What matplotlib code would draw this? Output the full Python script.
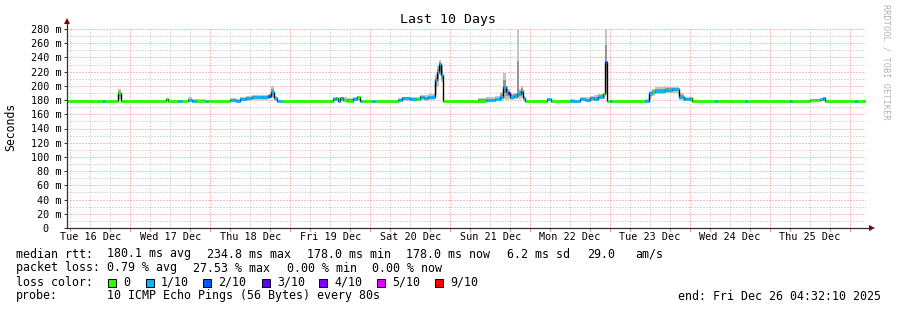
import matplotlib
matplotlib.use("Agg")
import matplotlib.pyplot as plt
import numpy as np

plt.rcParams['font.family'] = ['DejaVu Sans Mono']
plt.rcParams['lines.scale_dashes'] = False

# ---------------- data (hours since Tue 16 Dec 00:00) ----------------
seg_hours = [5.0, 15.9, 16.5, 20.4, 21.3, 34.8, 35.4, 38.4, 39.6, 41.4, 42.6, 43.8, 46.8, 47.4,
             54.0, 55.8, 57.0, 58.8, 60.6, 63.6, 65.4, 66.3, 67.2, 68.1, 69.6,
             84.9, 85.8, 86.4, 87.0, 87.9, 89.1, 90.9, 92.1, 93.0, 93.6, 96.6, 97.5,
             104.4, 105.6, 108.0, 109.8, 111.0, 112.2, 113.4, 115.5, 116.1, 116.7, 117.3, 117.9,
             128.4, 130.8, 133.5, 135.0, 135.9, 136.8, 137.4, 138.0, 139.2, 140.1, 140.7, 141.3,
             141.9, 142.5, 149.1, 150.3, 156.0, 157.5, 159.0, 160.5, 162.0, 163.2, 164.4, 165.9,
             166.5, 167.1, 168.0, 168.6, 178.5, 179.7, 180.6, 181.5, 184.5, 186.6, 188.7, 190.2,
             192.0, 192.6, 199.5, 200.1, 208.5, 209.1, 222.0, 222.6, 228.0, 229.8, 231.0, 231.9,
             232.5, 241.5, 242.1]
end_hour = 244.8
median_ms = [178, 178, 178, 190, 178, 181, 178, 178, 178, 180, 178, 178, 178, 178,
             180, 178, 181, 183, 185, 184, 186, 192, 183, 178, 178,
             181, 183, 179, 183, 180, 179, 182, 184, 178, 178, 178, 178,
             180, 183, 181, 181, 185, 183, 184, 208, 220, 231, 215, 178,
             179, 180, 181, 184, 198, 191, 190, 184, 186, 188, 189, 193,
             183, 178, 181, 178, 179, 178, 181, 180, 183, 182, 185, 188,
             233, 178, 178, 178, 179, 190, 192, 193, 194, 195, 185, 181,
             183, 178, 178, 178, 178, 178, 178, 178, 180, 180, 181, 183,
             178, 178, 178]
loss_idx = [0, 1, 0, 0, 0, 0, 0, 1, 0, 1, 1, 0, 1, 0,
            1, 1, 1, 1, 1, 1, 2, 1, 1, 1, 0,
            1, 0, 1, 1, 0, 0, 1, 0, 1, 0, 1, 0,
            1, 1, 1, 0, 1, 1, 1, 1, 1, 1, 1, 0,
            0, 1, 1, 1, 1, 1, 3, 1, 1, 1, 1, 1,
            1, 0, 1, 0, 1, 1, 1, 1, 1, 1, 1, 0,
            2, 0, 1, 0, 1, 1, 0, 1, 1, 1, 1, 1,
            0, 0, 1, 0, 1, 0, 1, 0, 0, 0, 1, 1,
            0, 1, 0]
smoke_lo = [178, 178, 178, 182, 178, 179, 178, 178, 178, 178, 178, 178, 178, 178,
            178, 178, 178, 179, 180, 180, 181, 183, 179, 178, 178,
            178, 179, 178, 179, 178, 178, 179, 180, 178, 178, 178, 178,
            178, 179, 178, 178, 180, 179, 180, 190, 200, 215, 205, 178,
            178, 178, 178, 178, 182, 180, 181, 180, 181, 182, 182, 183,
            179, 178, 178, 178, 178, 178, 178, 178, 179, 179, 181, 182,
            190, 178, 178, 178, 178, 182, 186, 188, 190, 190, 180, 178,
            179, 178, 178, 178, 178, 178, 178, 178, 178, 178, 178, 179,
            178, 178, 178]
smoke_hi = [178, 178, 178, 195, 178, 182, 178, 178, 178, 184, 182, 181, 178, 178,
            183, 182, 184, 186, 187, 187, 189, 200, 186, 178, 178,
            184, 185, 182, 185, 184, 183, 185, 186, 178, 178, 178, 178,
            183, 185, 184, 184, 187, 187, 188, 215, 228, 236, 230, 178,
            183, 184, 186, 192, 218, 200, 195, 190, 190, 281, 196, 200,
            186, 178, 182, 178, 182, 178, 184, 184, 186, 187, 188, 190,
            281, 178, 178, 178, 181, 193, 196, 198, 199, 199, 190, 184,
            184, 178, 178, 178, 178, 178, 178, 178, 181, 181, 182, 184,
            178, 178, 178]

loss_labels = ['0', '1/10', '2/10', '3/10', '4/10', '5/10', '9/10']
loss_colors = ['#26ff00', '#00b8ff', '#0059ff', '#5e00ff', '#7e00ff', '#dd00ff', '#ff0000']

day_labels = ['Tue 16 Dec', 'Wed 17 Dec', 'Thu 18 Dec', 'Fri 19 Dec', 'Sat 20 Dec',
              'Sun 21 Dec', 'Mon 22 Dec', 'Tue 23 Dec', 'Wed 24 Dec', 'Thu 25 Dec']
y_ticks = [0, 20, 40, 60, 80, 100, 120, 140, 160, 180, 200, 220, 240, 260, 280]

# ---------------- figure ----------------
W, H = 897, 310
fig = plt.figure(figsize=(W / 100, H / 100), dpi=100)
fig.patch.set_facecolor('white')
ax = fig.add_axes([67 / W, 82 / H, 799 / W, 199 / H])
ax.set_xlim(5.0, end_hour)
ax.set_ylim(0, 280)
ax.set_facecolor('white')

MAJ = '#ff8080'
MIN = '#b8b8b8'
dash = (0, (0.72, 1.44))
# grid
for v in range(10, 281, 10):
    ax.axhline(v, color=MAJ if v % 20 == 0 else MIN, lw=0.72, ls=dash, zorder=0.5)
for h in np.arange(6, end_hour, 6):
    if h < 5.0:
        continue
    ax.axvline(h, color=MAJ if h % 24 == 0 else MIN, lw=0.72, ls=dash, zorder=0.5)

# smoke
t = np.array(seg_hours + [end_hour])
lo = np.array(smoke_lo + [smoke_lo[-1]], float)
hi = np.array(smoke_hi + [smoke_hi[-1]], float)
md = np.array(median_ms + [median_ms[-1]], float)
ax.fill_between(t, lo, hi, step='post', color='#c4c4c4', lw=0, zorder=1)
ax.fill_between(t, (lo + md) / 2, (md + hi) / 2, step='post', color='#949494', lw=0, zorder=1.1)

# median: black connector then loss-coloured segments
ax.step(t, md, where='post', color='black', lw=1.0, zorder=2)
ax.hlines(median_ms, seg_hours, seg_hours[1:] + [end_hour],
          colors=[loss_colors[i] for i in loss_idx], lw=2.0, zorder=3)

# axes
for s in ax.spines.values():
    s.set_visible(False)
ax.plot([0, 0], [0, 1.035], transform=ax.transAxes, color='#303030', lw=0.9, clip_on=False, zorder=4)
ax.plot([0, 1.005], [0, 0], transform=ax.transAxes, color='#303030', lw=0.9, clip_on=False, zorder=4)
ax.plot([0], [1.04], marker='^', ms=4.5, color='#800000', transform=ax.transAxes, clip_on=False, mew=0)
ax.plot([1.007], [0], marker='>', ms=4.5, color='#800000', transform=ax.transAxes, clip_on=False, mew=0)

ax.set_yticks(y_ticks)
ax.set_yticklabels(['0  ' if v == 0 else f'{v} m' for v in y_ticks], fontsize=7.3)
ax.set_xticks([12 + 24 * k for k in range(len(day_labels))])
ax.set_xticklabels(day_labels, fontsize=7.3)
ax.set_xticks([h for h in np.arange(6, end_hour, 6) if h % 24 != 12], minor=True)
ax.tick_params(axis='y', which='major', length=2.5, width=0.7, color='#303030', pad=1.5)
ax.tick_params(axis='y', which='minor', length=0)
ax.tick_params(axis='x', which='major', length=0, pad=3)
ax.tick_params(axis='x', which='minor', length=2, width=0.7, color='#ff7070')

fig.text(11 / W, 1 - 127 / H, 'Seconds', rotation=90, ha='center', va='center', fontsize=8.3)

fig.text(448 / W, 1 - 20 / H, 'Last 10 Days', ha='center', va='center', fontsize=9.5)
fig.text(886 / W, 1 - 4 / H, 'RRDTOOL / TOBI OETIKER', rotation=-90, ha='center', va='top',
         fontsize=6.2, color='#b4b4b4')

fs = 8.4
def row(y, items):
    for x, s in items:
        fig.text(x / W, 1 - y / H, s, ha='left', va='center', fontsize=fs)

row(254, [(16, 'median rtt:'), (107, '180.1 ms avg'), (207, '234.8 ms max'), (307, '178.0 ms min'),
          (406, '178.0 ms now'), (507, '6.2 ms sd'), (587, '29.0'), (635, 'am/s')])
row(268, [(16, 'packet loss:'), (107, '0.79 % avg'), (193, '27.53 % max'), (287, '0.00 % min'),
          (372, '0.00 % now')])
row(282, [(16, 'loss color:')])
box_x = [108, 146, 203, 262, 319, 377, 435]
for bx, lab, col in zip(box_x, loss_labels, loss_colors):
    fig.patches.append(plt.Rectangle((bx / W, 1 - 286.5 / H), 8 / W, 8 / H, transform=fig.transFigure,
                                     facecolor=col, edgecolor='black', lw=0.7))
    fig.text((bx + 15) / W, 1 - 282 / H, lab, ha='left', va='center', fontsize=fs)
row(296, [(16, 'probe:'), (107, '10 ICMP Echo Pings (56 Bytes) every 80s')])
fig.text(881 / W, 1 - 296 / H, 'end: Fri Dec 26 04:32:10 2025', ha='right', va='center', fontsize=fs)

fig.savefig('out.png', dpi=100)
